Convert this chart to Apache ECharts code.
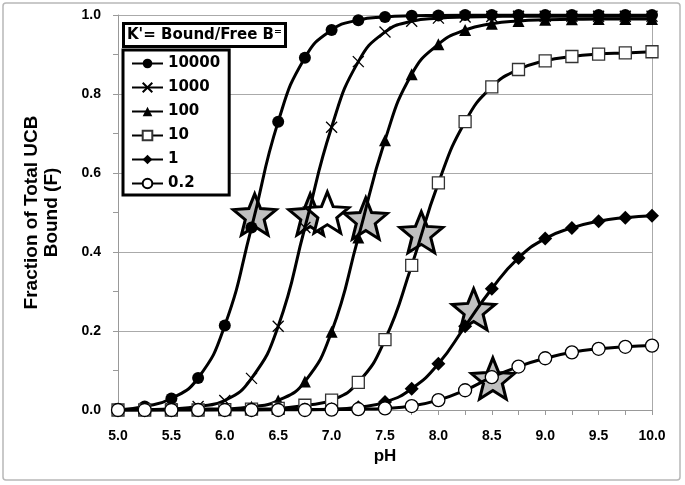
<!DOCTYPE html>
<html><head><meta charset="utf-8">
<script src="https://cdn.jsdelivr.net/npm/echarts@6/dist/echarts.min.js"></script>
<style>html,body{margin:0;padding:0;background:#fff}#c{width:685px;height:485px}</style>
</head><body><div id="c"></div>
<script>
const pH = [5.0,5.25,5.5,5.75,6.0,6.25,6.5,6.75,7.0,7.25,7.5,7.75,8.0,8.25,8.5,8.75,9.0,9.25,9.5,9.75,10.0];
const seriesNames = ['10000','1000','100','10','1','0.2'];
const K10000 = [0.000,0.009,0.029,0.081,0.214,0.462,0.730,0.892,0.962,0.987,0.995,0.998,0.999,1.0,1.0,1.0,1.0,1.0,1.0,1.0,1.0];
const K1000  = [0.000,0.001,0.003,0.009,0.024,0.080,0.212,0.462,0.716,0.882,0.957,0.984,0.992,0.995,0.996,0.997,0.997,0.997,0.997,0.997,0.997];
const K100   = [0.000,0.000,0.001,0.002,0.003,0.008,0.024,0.072,0.198,0.437,0.683,0.850,0.926,0.962,0.978,0.985,0.988,0.989,0.990,0.990,0.990];
const K10    = [0.000,0.000,0.000,0.000,0.001,0.002,0.004,0.012,0.025,0.070,0.178,0.366,0.575,0.730,0.818,0.862,0.884,0.895,0.901,0.904,0.907];
const K1     = [0.000,0.000,0.000,0.000,0.000,0.000,0.001,0.001,0.002,0.007,0.020,0.054,0.117,0.212,0.307,0.385,0.434,0.461,0.478,0.487,0.492];
const K02    = [0.000,0.000,0.000,0.000,0.000,0.000,0.000,0.000,0.001,0.002,0.004,0.010,0.025,0.050,0.083,0.110,0.131,0.146,0.155,0.160,0.163];
const starsGray  = [[6.28,0.495],[6.80,0.495],[7.32,0.485],[7.84,0.45],[8.33,0.255],[8.51,0.08]];
const starsWhite = [[6.96,0.50]];

const STAR = 'path://M50 0 L62.93 32.2 L97.55 34.55 L70.92 56.8 L79.39 90.45 L50 72 L20.61 90.45 L29.08 56.8 L2.45 34.55 L37.07 32.2 Z';
const CROSS = 'path://M0 0 L10 10 M10 0 L0 10';
const values = [K10000,K1000,K100,K10,K1,K02];
const markers = [
  {symbol:'circle', size:12, style:{color:'#000'}},
  {symbol:CROSS, size:11, style:{color:'none', borderColor:'#000', borderWidth:1.3}},
  {symbol:'triangle', size:12, style:{color:'#000'}},
  {symbol:'rect', size:12, style:{color:'#fff', borderColor:'#333', borderWidth:1.3}},
  {symbol:'diamond', size:14, style:{color:'#000'}},
  {symbol:'circle', size:13, style:{color:'#fff', borderColor:'#000', borderWidth:1.3}}
];
const series = seriesNames.map((n,i)=>({
  name:n, type:'line', z:5,
  data: pH.map((x,j)=>[x, values[i][j]]),
  smooth:0.5,
  symbol:markers[i].symbol, symbolSize:markers[i].size,
  lineStyle:{color:'#000', width:3},
  itemStyle:markers[i].style,
  emphasis:{disabled:true}
}));
series.push({type:'scatter', z:2, data:starsGray, symbol:STAR, symbolSize:[43,41],
  itemStyle:{color:'#c0c0c0', borderColor:'#000', borderWidth:3, opacity:1}});
series.push({type:'scatter', z:2, data:starsWhite, symbol:STAR, symbolSize:[43,41],
  itemStyle:{color:'#fff', borderColor:'#000', borderWidth:3, opacity:1}});

const chart = echarts.init(document.getElementById('c'), null, {renderer:'canvas'});
chart.setOption({
  animation:false,
  backgroundColor:'#fff',
  graphic:[
    {type:'rect', shape:{x:3,y:3,width:677,height:477,r:3}, style:{fill:'none', stroke:'#b8b8b8', lineWidth:1.5}, z:0},
    {type:'line', shape:{x1:652.5,y1:15,x2:652.5,y2:410}, style:{stroke:'#aaa', lineWidth:1}, z:1}
  ],
  title:{text:"K'= Bound/Free B\u207C", left:123, top:23, padding:[5,4,4,4],
    borderColor:'#000', borderWidth:3, backgroundColor:'#fff',
    textStyle:{fontFamily:'DejaVu Sans', fontWeight:'bold', fontSize:15, color:'#000'}},
  legend:{orient:'vertical', left:123, top:50, padding:[6,9,4,8], itemGap:9,
    itemWidth:31, itemHeight:12, borderColor:'#000', borderWidth:3, backgroundColor:'#fff',
    data:seriesNames,
    textStyle:{fontFamily:'DejaVu Sans', fontWeight:'bold', fontSize:15, color:'#000'}},
  grid:{left:118, right:33, top:15, bottom:75},
  xAxis:{type:'value', min:5, max:10, interval:0.5,
    name:'pH', nameLocation:'middle', nameGap:37,
    nameTextStyle:{fontFamily:'Liberation Sans', fontWeight:'bold', fontSize:17, color:'#000'},
    axisLine:{lineStyle:{color:'#999', width:1}},
    axisTick:{show:true, length:5, lineStyle:{color:'#999'}},
    minorTick:{show:true, splitNumber:2, length:5, lineStyle:{color:'#999'}},
    splitLine:{show:false},
    axisLabel:{margin:19, formatter:v=>v.toFixed(1), fontFamily:'Liberation Sans', fontWeight:'bold', fontSize:14, color:'#000'}},
  yAxis:{type:'value', min:0, max:1, interval:0.2,
    name:'Fraction of Total UCB\nBound (F)', nameLocation:'middle', nameGap:56, nameRotate:90,
    nameTextStyle:{fontFamily:'Liberation Sans', fontWeight:'bold', fontSize:19, lineHeight:20, color:'#000'},
    axisLine:{show:true, lineStyle:{color:'#999', width:1}},
    axisTick:{show:true, length:5, lineStyle:{color:'#999'}},
    minorTick:{show:true, splitNumber:2, length:5, lineStyle:{color:'#999'}},
    splitLine:{show:true, lineStyle:{color:'#aaa', width:1}},
    axisLabel:{margin:17, formatter:v=>v.toFixed(1), fontFamily:'Liberation Sans', fontWeight:'bold', fontSize:14, color:'#000'}},
  series:series
});
</script></body></html>
